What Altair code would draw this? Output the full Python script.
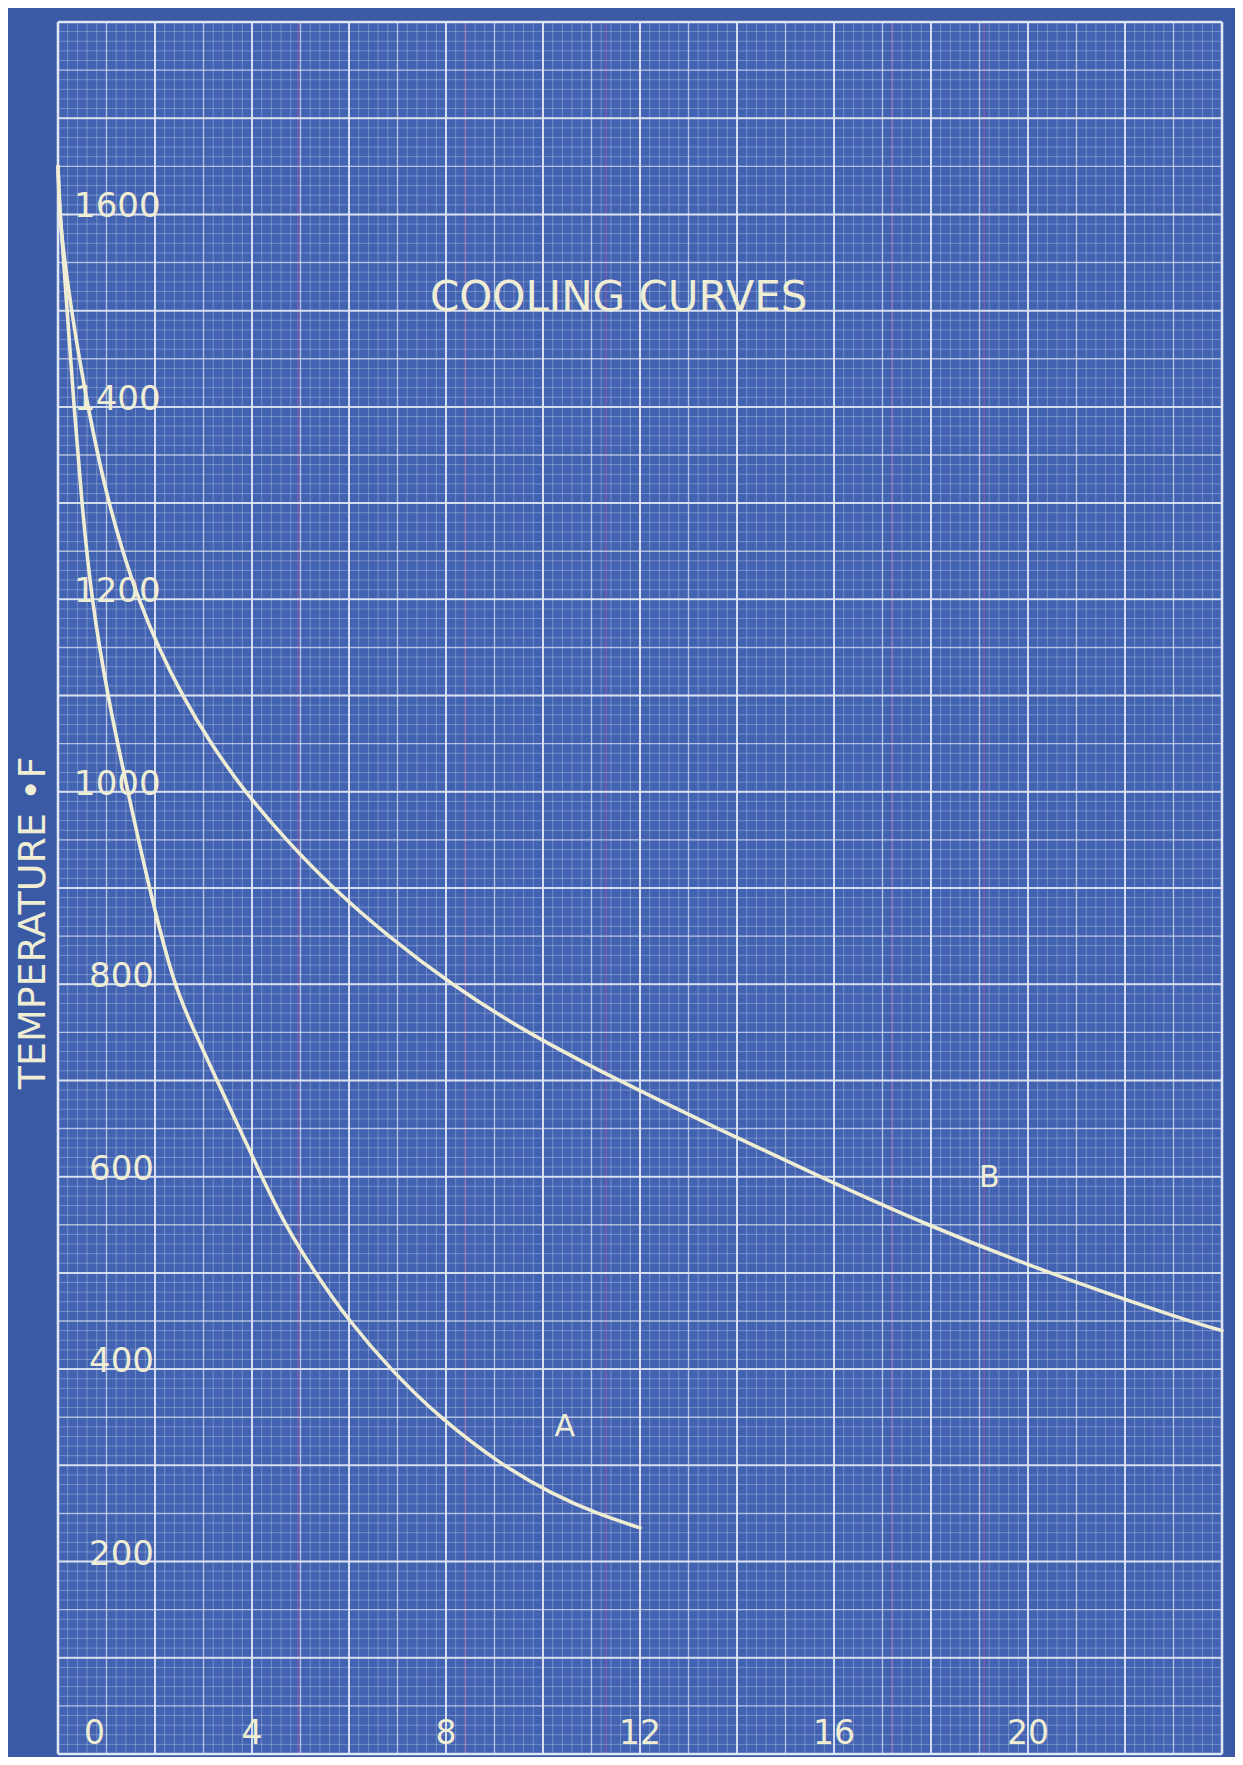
import altair as alt
import pandas as pd

# ---- data -------------------------------------------------------------
time_a = [0, 0.04, 0.19, 0.33, 0.49, 0.69, 1.02, 1.44, 1.88, 2.38, 2.82, 3.28, 3.74, 4.20,
          4.68, 5.30, 6.00, 6.85, 7.85, 9.15, 10.20, 11.10, 12.0]
temp_a = [1650, 1600, 1500, 1400, 1300, 1200, 1100, 1000, 900, 800, 750, 700, 650, 600,
          550, 500, 450, 400, 350, 300, 270, 250, 235]

time_b = [0, 0.03, 0.14, 0.28, 0.44, 0.62, 0.82, 1.05, 1.33, 1.66, 2.07, 2.56, 3.15, 3.85,
          4.70, 5.66, 6.80, 8.10, 9.65, 11.55, 13.60, 15.70, 17.90, 20.40, 23.30, 24.0]
temp_b = [1650, 1600, 1550, 1500, 1450, 1400, 1350, 1300, 1250, 1200, 1150, 1100, 1050, 1000,
          950, 900, 850, 800, 750, 700, 650, 600, 550, 500, 450, 440]

y_tick_values = [200, 400, 600, 800, 1000, 1200, 1400, 1600]
x_tick_values = [0, 4, 8, 12, 16, 20]

# blueprint paper rulings
x_minor = [round(i * 0.2, 1) for i in range(121)]
x_medium = list(range(0, 25))
x_major = list(range(0, 25, 2))
y_minor = list(range(0, 1801, 10))
y_medium = list(range(0, 1801, 50))
y_major = list(range(0, 1801, 100))
streaks = [4.95, 8.4, 10.0, 11.3, 12.0, 17.2, 19.1]  # faint purple scan streaks

# ---- styling -------------------------------------------------------------
BG = "#3b5aa6"
PAPER = "#4262b2"
LINE = "#dfe6f3"
INK = "#efedd3"
FONT = "DejaVu Sans"

xs = alt.Scale(domain=[0, 24], nice=False, zero=False)
ys = alt.Scale(domain=[0, 1800], nice=False, zero=False)

curves = pd.DataFrame(
    [{"t": t, "T": v, "s": "A"} for t, v in zip(time_a, temp_a)]
    + [{"t": t, "T": v, "s": "B"} for t, v in zip(time_b, temp_b)]
)


def vrules(vals, color, width, opacity):
    return alt.Chart(pd.DataFrame({"t": vals})).mark_rule(
        color=color, strokeWidth=width, opacity=opacity
    ).encode(x=alt.X("t:Q", scale=xs, axis=None))


def hrules(vals, color, width, opacity):
    return alt.Chart(pd.DataFrame({"T": vals})).mark_rule(
        color=color, strokeWidth=width, opacity=opacity
    ).encode(y=alt.Y("T:Q", scale=ys, axis=None))


grid = [
    vrules(streaks, "#a05aa6", 2.2, 0.45),
    vrules(x_minor, LINE, 1, 0.32),
    hrules(y_minor, LINE, 1, 0.32),
    vrules(x_medium, LINE, 1.4, 0.6),
    hrules(y_medium, LINE, 1.4, 0.6),
    vrules(x_major, LINE, 2, 0.85),
    hrules(y_major, LINE, 2, 0.85),
    vrules([0, 24], LINE, 2.6, 0.95),
    hrules([0, 1800], LINE, 2.6, 0.95),
]

lines = alt.Chart(curves).mark_line(
    interpolate="basis", color=INK, strokeWidth=3.6, strokeCap="round"
).encode(
    x=alt.X("t:Q", scale=xs, axis=None),
    y=alt.Y("T:Q", scale=ys, axis=None),
    detail="s:N",
)


def text_layer(df, xexpr, yexpr, size, **kw):
    return alt.Chart(df).transform_calculate(xp=xexpr, yp=yexpr).mark_text(
        font=FONT, fontSize=size, color=INK, **kw
    ).encode(
        x=alt.X("xp:Q", scale=xs, axis=None),
        y=alt.Y("yp:Q", scale=ys, axis=None),
        text="s:N",
    )


ylab = pd.DataFrame({"s": [str(v) for v in y_tick_values], "v": y_tick_values})
ylab_hi = text_layer(ylab[ylab.v >= 1000], "0", "datum.v", 34,
                     align="left", baseline="alphabetic", dx=16, dy=3)
ylab_lo = text_layer(ylab[ylab.v < 1000], "0", "datum.v", 34,
                     align="left", baseline="alphabetic", dx=31, dy=3)

xlab = text_layer(pd.DataFrame({"s": [str(v) for v in x_tick_values], "v": x_tick_values}),
                  "datum.v == 0 ? 0.75 : datum.v", "0", 33,
                  align="center", baseline="alphabetic", dy=-10)

title = text_layer(pd.DataFrame({"s": ["COOLING CURVES"]}), "11.56", "1500", 42,
                   align="center", baseline="alphabetic")
lab_a = text_layer(pd.DataFrame({"s": ["A"]}), "10.45", "330", 30,
                   align="center", baseline="alphabetic")
lab_b = text_layer(pd.DataFrame({"s": ["B"]}), "19.2", "589", 30,
                   align="center", baseline="alphabetic")

ytitle = alt.Chart(pd.DataFrame({"s": ["TEMPERATURE •F"]})).mark_text(
    align="center", baseline="alphabetic", angle=270, font=FONT, fontSize=38, color=INK
).encode(x=alt.value(-13), y=alt.value(901), text="s:N")

chart = alt.layer(
    *grid, lines, ylab_hi, ylab_lo, xlab, title, lab_a, lab_b, ytitle
).properties(
    width=1164,
    height=1732,
    padding={"left": 50, "top": 14, "right": 13, "bottom": 3},
    autosize=alt.AutoSizeParams(type="none"),
    background=BG,
).configure_view(
    fill=PAPER, stroke=None
)

chart.save("out.html", embed_options={"renderer": "svg", "actions": False})
